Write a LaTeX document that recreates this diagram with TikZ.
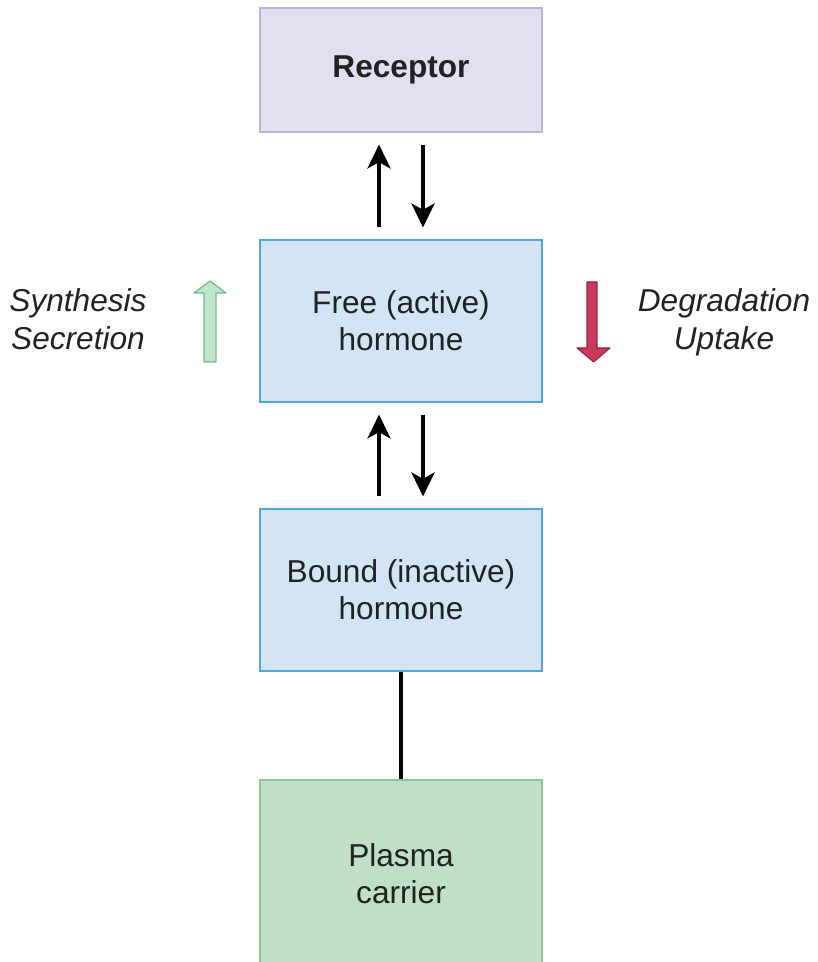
\documentclass[tikz,border=0pt]{standalone}
\usepackage{fontspec}
\setmainfont{Liberation Sans}
\usetikzlibrary{arrows.meta}

\definecolor{RecFill}{HTML}{E3DEF0}
\definecolor{RecDraw}{HTML}{BCB2DA}
\definecolor{HorFill}{HTML}{D3E4F5}
\definecolor{HorDraw}{HTML}{52A5DD}
\definecolor{CarFill}{HTML}{BFDFC6}
\definecolor{CarDraw}{HTML}{8DC69A}
\definecolor{UpFill}{HTML}{C2E4CB}
\definecolor{UpDraw}{HTML}{6FBD86}
\definecolor{DownFill}{HTML}{C9395B}
\definecolor{DownDraw}{HTML}{9E2141}
\definecolor{Ink}{HTML}{222222}

\begin{document}
\begin{tikzpicture}
[
Box/.style={rectangle, thick, minimum width=7.05cm, align=center, text=Ink,
  font=\fontsize{22.5}{26.5}\selectfont},
Receptor/.style={Box, draw=RecDraw, fill=RecFill, minimum height=3.1cm},
Hormone/.style={Box, draw=HorDraw, fill=HorFill, minimum height=4.05cm},
Carrier/.style={Box, draw=CarDraw, fill=CarFill, minimum height=4.7cm},
Side/.style={align=center, text=Ink, font=\fontsize{22.5}{27}\selectfont\itshape},
Flow/.style={line width=2.3pt, draw=black, shorten <=3mm, shorten >=3mm,
  -{Stealth[length=6mm, width=5.8mm, inset=1.6mm]}},
Link/.style={line width=2.3pt, draw=black},
GreenArrow/.style={draw=UpDraw, fill=UpFill, thick, line join=round},
RedArrow/.style={draw=DownDraw, fill=DownFill, thick, line join=round},
]

\useasboundingbox (0,0) rectangle (20.425,24.05);

\node[Receptor] (receptor) at (10.025,22.3) {\textbf{Receptor}};
\node[Hormone] (free) at (10.025,16.025) {Free (active)\\hormone};
\node[Hormone] (bound) at (10.025,9.3) {Bound (inactive)\\hormone};
\node[Carrier] (carrier) at (10.025,2.2) {Plasma\\carrier};

% equilibrium arrows
\draw[Flow] ([xshift=-5.5mm]free.north) -- ([xshift=-5.5mm]receptor.south);
\draw[Flow] ([xshift=5.5mm]receptor.south) -- ([xshift=5.5mm]free.north);
\draw[Flow] ([xshift=-5.5mm]bound.north) -- ([xshift=-5.5mm]free.south);
\draw[Flow] ([xshift=5.5mm]free.south) -- ([xshift=5.5mm]bound.north);

\draw[Link] (bound.south) -- (carrier.north);

% gain and loss of free hormone
\node[Side] (gain) at (1.95,16.075) {Synthesis\\Secretion};
\node[Side] (loss) at (18.1,16.0) {Degradation\\Uptake};

\draw[GreenArrow] (5.1,15.0) -- (5.1,16.725) -- (4.85,16.725) -- (5.25,17.025)
  -- (5.65,16.725) -- (5.4,16.725) -- (5.4,15.0) -- cycle;
\draw[RedArrow] (14.675,17.0) -- (14.675,15.35) -- (14.425,15.35) -- (14.84,15.0)
  -- (15.25,15.35) -- (14.925,15.35) -- (14.925,17.0) -- cycle;

\end{tikzpicture}
\end{document}
